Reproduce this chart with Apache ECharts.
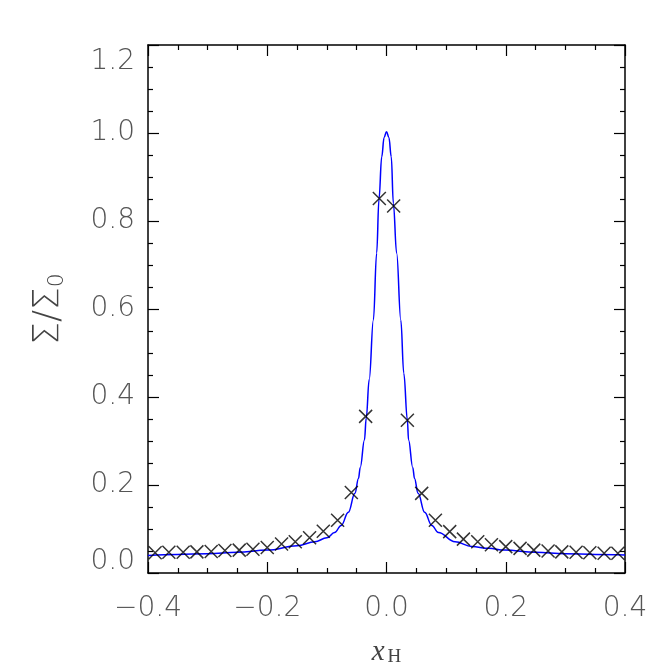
<!DOCTYPE html>
<html>
<head>
<meta charset="utf-8">
<script src="https://cdn.jsdelivr.net/npm/echarts@6/dist/echarts.min.js"></script>
<style>html,body{margin:0;padding:0;background:#fff}#c{width:668px;height:668px}</style>
</head>
<body>
<div id="c"></div>
<script>
// Cross markers (sampled data)
const crossX = [-0.388, -0.365, -0.341, -0.318, -0.294, -0.271, -0.247, -0.224, -0.200, -0.176,
  -0.153, -0.129, -0.106, -0.082, -0.059, -0.035, -0.012, 0.012, 0.035, 0.059,
  0.082, 0.106, 0.129, 0.153, 0.176, 0.200, 0.224, 0.247, 0.271, 0.294,
  0.318, 0.341, 0.365, 0.388];
const crossY = [0.046, 0.047, 0.047, 0.048, 0.049, 0.051, 0.052, 0.054, 0.058, 0.066,
  0.071, 0.080, 0.095, 0.120, 0.183, 0.356, 0.851, 0.834, 0.347, 0.181,
  0.120, 0.094, 0.077, 0.071, 0.064, 0.060, 0.056, 0.052, 0.050, 0.048,
  0.047, 0.046, 0.045, 0.045];
// Blue model curve
const curveX = [-0.400, -0.350, -0.300, -0.250, -0.200, -0.150, -0.120, -0.100, -0.087, -0.076,
  -0.064, -0.053, -0.047, -0.044, -0.037, -0.034, -0.029, -0.022, -0.0165, -0.0126,
  -0.008, -0.004, 0.000, 0.004, 0.008, 0.0115, 0.017, 0.024, 0.029, 0.035,
  0.037, 0.044, 0.047, 0.053, 0.064, 0.076, 0.087, 0.115, 0.143, 0.171, 0.198,
  0.250, 0.300, 0.350, 0.400];
const curveY = [0.040, 0.042, 0.044, 0.047, 0.052, 0.062, 0.071, 0.080, 0.092, 0.108,
  0.138, 0.181, 0.215, 0.240, 0.302, 0.352, 0.440, 0.575, 0.727, 0.850,
  0.946, 0.990, 1.003, 0.990, 0.946, 0.840, 0.727, 0.575, 0.454, 0.348,
  0.302, 0.240, 0.215, 0.181, 0.138, 0.108, 0.092, 0.071, 0.060, 0.056, 0.052,
  0.047, 0.044, 0.042, 0.041];
const xTicks = [-0.4, -0.2, 0.0, 0.2, 0.4];
const yTicks = [0.0, 0.2, 0.4, 0.6, 0.8, 1.0, 1.2];

const labelFont = {color: '#555', fontFamily: 'DejaVu Sans', fontWeight: 200, fontSize: 28};
const axisLine = {show: true, onZero: false, lineStyle: {color: '#000', width: 1.5}};
const tick = {show: true, inside: true, length: 11, lineStyle: {color: '#000', width: 1.2}};
const minor = {show: true, splitNumber: 4, length: 5, lineStyle: {color: '#000', width: 1.2}};

const chart = echarts.init(document.getElementById('c'));
chart.setOption({
  animation: false,
  grid: {left: 148, right: 43, top: 45, bottom: 95, outerBoundsMode: 'none', containLabel: false},
  xAxis: [{
    type: 'value', min: xTicks[0], max: xTicks[xTicks.length - 1], interval: 0.2,
    position: 'bottom', axisLine, axisTick: tick, minorTick: minor,
    splitLine: {show: false},
    axisLabel: Object.assign({margin: 22, formatter: v => v.toFixed(1).replace('-', '\u2212')}, labelFont),
    name: '{x|x}{h|H}', nameLocation: 'middle', nameGap: 65,
    nameTextStyle: {rich: {
      x: {fontFamily: 'Liberation Serif', fontStyle: 'italic', fontSize: 29, color: '#444', verticalAlign: 'bottom'},
      h: {fontFamily: 'Liberation Serif', fontSize: 19, color: '#444', padding: [10, 0, 0, 3], verticalAlign: 'bottom'}
    }}
  }, {
    type: 'value', min: -0.4, max: 0.4, interval: 0.2, position: 'top',
    axisLine, axisTick: tick, minorTick: minor, splitLine: {show: false}, axisLabel: {show: false}
  }],
  yAxis: [{
    type: 'value', min: yTicks[0], max: yTicks[yTicks.length - 1], interval: 0.2,
    position: 'left', axisLine, axisTick: tick, minorTick: minor,
    splitLine: {show: false},
    axisLabel: Object.assign({margin: 13, formatter: v => {
      const s = v.toFixed(1);
      if (v === 0) return '{lo|' + s + '}';
      if (Math.abs(v - 1.2) < 1e-9) return '{hi|' + s + '}';
      return s;
    }, rich: {
      lo: Object.assign({padding: [0, 0, 22, 0]}, labelFont),
      hi: Object.assign({padding: [34, 0, 0, 0]}, labelFont)
    }}, labelFont),
    name: '{a|\u03A3/\u03A3}{s|0}', nameLocation: 'middle', nameGap: 80, nameRotate: 90,
    nameTextStyle: {rich: {
      a: {fontFamily: 'DejaVu Sans', fontWeight: 200, fontSize: 36, color: '#444'},
      s: {fontFamily: 'DejaVu Sans', fontWeight: 200, fontSize: 22, color: '#444', padding: [16, 0, 0, 0]}
    }}
  }, {
    type: 'value', min: 0, max: 1.2, interval: 0.2, position: 'right',
    axisLine, axisTick: tick, minorTick: minor, splitLine: {show: false}, axisLabel: {show: false}
  }],
  series: [{
    type: 'line', xAxisIndex: 0, yAxisIndex: 0,
    data: curveX.map((x, i) => [x, curveY[i]]),
    smooth: 0.4, smoothMonotone: 'x', showSymbol: false, symbol: 'none',
    lineStyle: {color: '#0000ff', width: 1.5}, z: 2
  }, {
    type: 'scatter', xAxisIndex: 0, yAxisIndex: 0,
    data: crossX.map((x, i) => [x, crossY[i]]),
    symbol: 'path://M0,0L10,10M10,0L0,10', symbolSize: 13,
    itemStyle: {color: 'none', borderColor: '#000', borderWidth: 1.5}, z: 3
  }]
});
</script>
</body>
</html>
